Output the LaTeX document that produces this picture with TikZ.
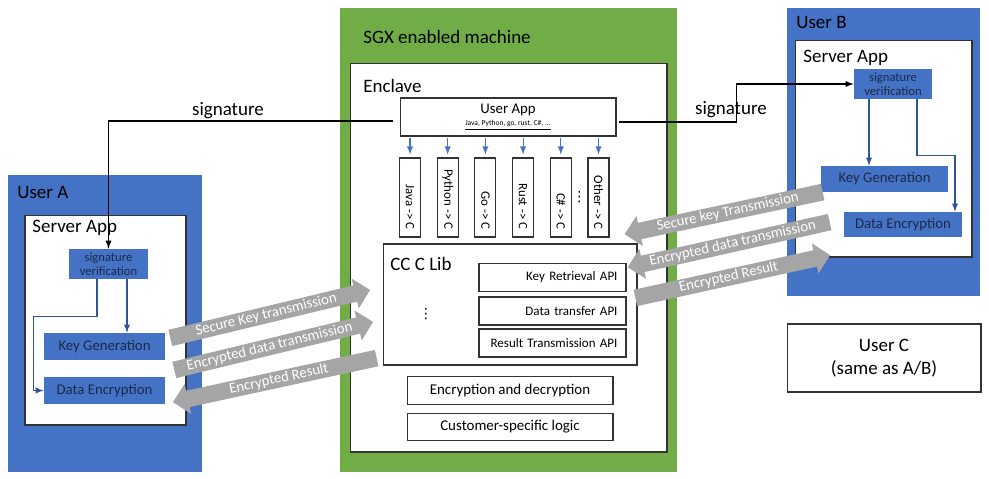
\documentclass[tikz,border=0pt]{standalone}
\usepackage{fontspec}
\setmainfont{Carlito}
\newfontfamily\symfont{DejaVu Sans}
\usetikzlibrary{shapes.arrows}

\definecolor{sgxgreen}{HTML}{70AD47}
\definecolor{userblue}{HTML}{4472C4}
\definecolor{boxnavy}{HTML}{1B2A4A}
\definecolor{flowblue}{HTML}{2F5597}
\definecolor{arrgray}{HTML}{A5A5A5}

\begin{document}
\begin{tikzpicture}[x=0.02cm, y=-0.02cm,
  frame/.style={draw=black!80, fill=white, line width=0.6pt, inner sep=0pt},
  user/.style={fill=userblue, inner sep=0pt},
  bluebox/.style={fill=userblue, text=boxnavy, inner sep=0pt, align=center,
    font=\fontsize{8.4}{9}\selectfont},
  title/.style={anchor=base west, inner sep=0pt, font=\fontsize{10.8}{13}\selectfont},
  flow/.style={flowblue, line width=0.6pt, -latex},
  langarrow/.style={userblue, line width=0.6pt, -latex},
  sig/.style={black, line width=0.6pt, -latex},
  lang/.style={frame, minimum width=0.42cm, minimum height=1.58cm},
  langtext/.style={rotate=-90, anchor=east, inner sep=0pt, font=\fontsize{7.3}{8}\selectfont},
  vdotsnode/.style={inner sep=0pt, font=\symfont\fontsize{8}{9}\selectfont},
  api/.style={frame, minimum width=2.94cm, minimum height=0.56cm, text width=2.6cm,
    align=right, font=\fontsize{7.4}{9}\selectfont},
  plain/.style={frame, minimum width=4.12cm, minimum height=0.55cm,
    font=\fontsize{8.5}{10}\selectfont},
  garrow/.style={single arrow, fill=arrgray, text=white, anchor=tail,
    inner xsep=0pt, inner ysep=0.4pt, text height=6.3pt, text depth=2pt,
    single arrow head extend=0.14cm, font=\fontsize{8.4}{9}\selectfont}]

\useasboundingbox (0,0) rectangle (989,478);

% User A
\node[user, minimum width=3.88cm, minimum height=5.94cm] (userA) at (105,323.5) {};
\node[title] (userAtitle) at (17,198) {User A};
\node[frame, minimum width=3.22cm, minimum height=4.2cm] (appA) at (105.5,320) {};
\node[title] (appAtitle) at (32,232) {Server App};
\node[bluebox, minimum width=1.58cm, minimum height=0.6cm, font=\fontsize{7.2}{8}\selectfont]
  (sigverA) at (108.5,264) {signature\\verification};
\node[bluebox, minimum width=2.42cm, minimum height=0.54cm] (keygenA) at (104.5,346.5) {Key Generation};
\node[bluebox, minimum width=2.42cm, minimum height=0.54cm] (dataencA) at (104.5,390.5) {Data Encryption};

% SGX machine
\node[fill=sgxgreen, minimum width=6.74cm, minimum height=9.28cm] (sgx) at (508.5,240) {};
\node[title] (sgxtitle) at (363,43) {SGX enabled machine};
\node[frame, minimum width=6.34cm, minimum height=7.78cm] (enclave) at (508.5,257.5) {};
\node[title] (enclavetitle) at (363,92) {Enclave};
\node[frame, minimum width=4.32cm, minimum height=0.76cm, align=center,
  font=\fontsize{8.4}{8}\selectfont] (userapp) at (508,117)
  {User App\\[-1pt]{\fontsize{4.3}{5}\selectfont\underline{Java, Python, go, rust, C\#, ...}}};
\foreach \lname [count=\i] in {Java, Python, Go, Rust, C\#, Other} {
  \node[lang] (L\i) at (372.3+37.7*\i,197.5) {};
  \node[langtext] (T\i) at ([yshift=0.16cm]L\i.south) {\lname{} -> C};
  \draw[langarrow] ([yshift=0.38cm]L\i.north) -- ([yshift=0.06cm]L\i.north);
}
\node[vdotsnode] (ldots) at (579.5,197) {⋮};

\node[frame, minimum width=5.08cm, minimum height=2.42cm] (cclib) at (510,304.5) {};
\node[title] (cclibtitle) at (390,270) {CC C Lib};
\node[vdotsnode] (cdots) at (426,314) {⋮};
\node[api] (keyapi) at (552.5,277.5) {Key Retrieval API};
\node[api] (dataapi) at (552.5,311) {Data transfer API};
\node[api] (resapi) at (552.5,343) {Result Transmission API};
\node[plain] (encdec) at (510,390.5) {Encryption and decryption};
\node[plain] (custlogic) at (510,427) {Customer-specific logic};

% User B
\node[user, minimum width=3.86cm, minimum height=5.76cm] (userB) at (883.5,152) {};
\node[title] (userBtitle) at (796,28) {User B};
\node[frame, minimum width=3.54cm, minimum height=4.34cm] (appB) at (883.5,148.5) {};
\node[title] (appBtitle) at (803,62) {Server App};
\node[bluebox, minimum width=1.56cm, minimum height=0.6cm, font=\fontsize{7.2}{8}\selectfont]
  (sigverB) at (893,84) {signature\\verification};
\node[bluebox, minimum width=2.54cm, minimum height=0.52cm] (keygenB) at (884.5,179) {Key Generation};
\node[bluebox, minimum width=2.36cm, minimum height=0.5cm] (dataencB) at (903,224.5) {Data Encryption};

% User C
\node[frame, minimum width=3.88cm, minimum height=1.36cm, align=center,
  font=\fontsize{10.8}{13}\selectfont] (userC) at (884,358) {User C\\(same as A/B)};

% flows inside the server apps
\coordinate (fa) at ([shift={(18.5,0)}]sigverA.south);
\draw[flow] (fa) -- (fa |- keygenA.north);
\draw[flow] ([shift={(-11.5,0)}]sigverA.south) -- ++(0,37)
  -| ([shift={(-10,0)}]dataencA.west) -- (dataencA.west);
\coordinate (fb) at ([shift={(-24,0)}]sigverB.south);
\draw[flow] (fb) -- (fb |- keygenB.north);
\draw[flow] ([shift={(24,0)}]sigverB.south) -- ++(0,56) -| ([shift={(52,0)}]dataencB.north);

% signatures
\draw[sig] ([shift={(-7,4)}]userapp.west) -| (sigverA);
\node[anchor=base, inner sep=0pt, font=\fontsize{10.8}{13}\selectfont] (sigA) at (228,115) {signature};
\draw[sig] ([shift={(2,5)}]userapp.east) -- ++(118,0) |- (sigverB);
\node[anchor=base, inner sep=0pt, font=\fontsize{10.8}{13}\selectfont] (sigB) at (731,114) {signature};

% transmissions
\node[garrow, rotate=13.5, minimum height=4.11cm] (keyA) at (170,338) {Secure Key transmission};
\node[garrow, rotate=13.6, minimum height=4.09cm] (dataA) at (174,370) {Encrypted data transmission};
\node[garrow, rotate=12.2, shape border rotate=180, minimum height=4.17cm] (resA) at (377,358) {Encrypted Result};
\node[garrow, rotate=12.0, shape border rotate=180, minimum height=4.05cm] (keyB) at (823,192) {Secure key Transmission};
\node[garrow, rotate=12.6, shape border rotate=180, minimum height=4.14cm] (dataB) at (830,222) {Encrypted data transmission};
\node[garrow, rotate=12.4, minimum height=3.99cm] (resB) at (635,298) {Encrypted Result};
\end{tikzpicture}
\end{document}
